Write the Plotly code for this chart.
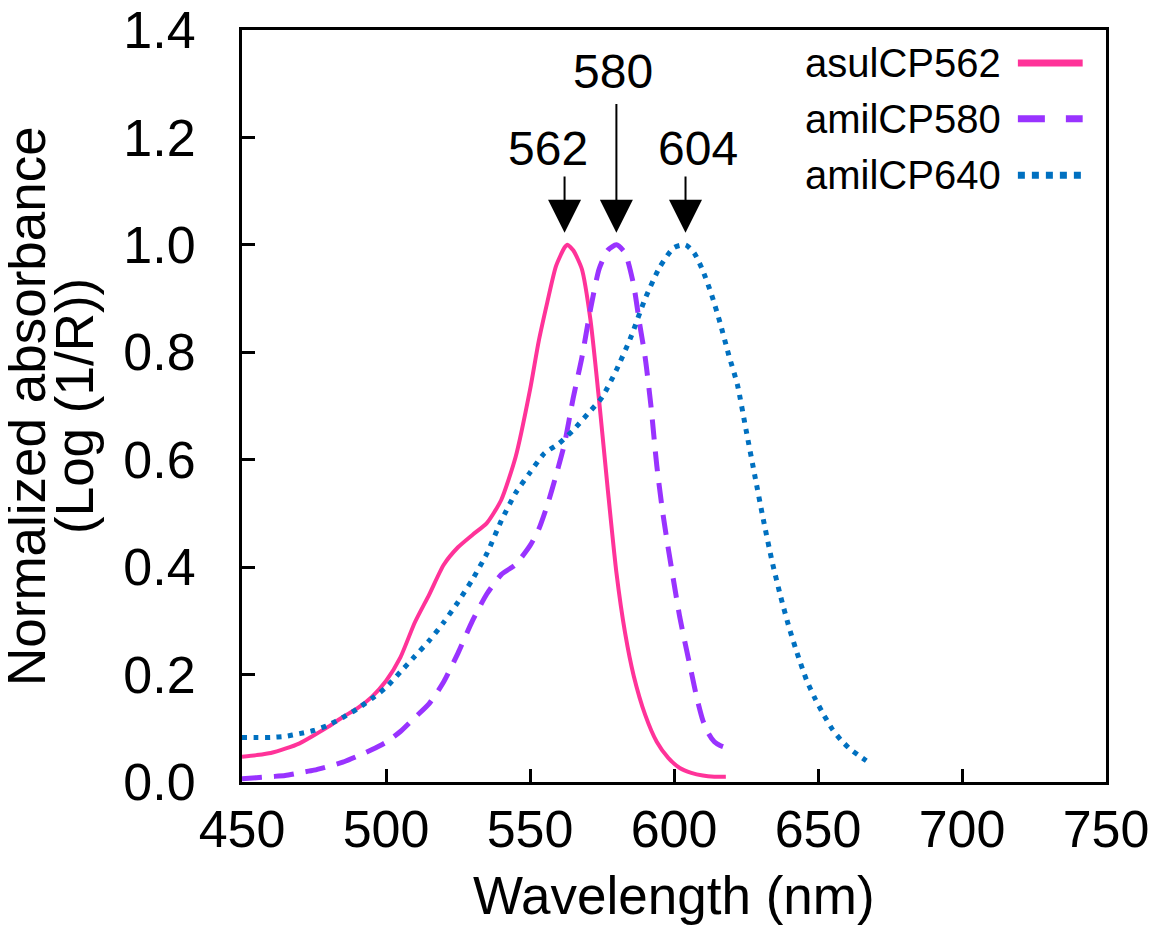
import plotly.graph_objects as go

# spectra (wavelength nm, normalized absorbance)
asul562_wl = [450, 455, 460, 465, 470, 475, 480, 485, 490, 495, 500, 505, 510, 515, 520,
              525, 530, 535, 540, 545, 550, 553, 556, 559, 562, 563, 565, 568, 571, 574,
              577, 580, 583, 586, 590, 594, 598, 602, 606, 610, 614, 618]
asul562_abs = [0.047, 0.050, 0.054, 0.062, 0.072, 0.087, 0.103, 0.121, 0.137, 0.158, 0.188,
               0.232, 0.297, 0.349, 0.404, 0.437, 0.460, 0.482, 0.525, 0.605, 0.730, 0.820,
               0.893, 0.960, 0.995, 1.000, 0.990, 0.955, 0.860, 0.710, 0.545, 0.390, 0.278,
               0.198, 0.125, 0.075, 0.045, 0.026, 0.017, 0.012, 0.010, 0.010]

amil580_wl = [450, 455, 460, 465, 470, 475, 480, 485, 490, 495, 500, 505, 510, 515, 520,
              525, 530, 535, 540, 545, 550, 553, 556, 559, 562, 565, 568, 571, 574, 577,
              580, 583, 586, 588, 590, 592, 594, 596, 598, 600, 602, 604, 606, 608, 610,
              612, 614, 616, 618]
amil580_abs = [0.006, 0.008, 0.010, 0.012, 0.017, 0.022, 0.029, 0.037, 0.048, 0.060, 0.074,
               0.094, 0.120, 0.146, 0.186, 0.240, 0.300, 0.350, 0.386, 0.405, 0.440, 0.470,
               0.515, 0.570, 0.630, 0.715, 0.790, 0.880, 0.955, 0.990, 1.000, 0.985, 0.925,
               0.855, 0.790, 0.700, 0.590, 0.505, 0.435, 0.370, 0.307, 0.255, 0.205, 0.155,
               0.115, 0.090, 0.075, 0.068, 0.064]

amil640_wl = [450, 455, 460, 465, 470, 475, 480, 485, 490, 495, 500, 505, 510, 515, 520,
              525, 530, 535, 540, 545, 550, 555, 560, 565, 570, 575, 580, 585, 590, 595,
              600, 604, 607, 610, 613, 616, 619, 622, 625, 628, 631, 634, 637, 640, 643,
              646, 649, 652, 655, 658, 661, 664, 668]
amil640_abs = [0.083, 0.083, 0.083, 0.085, 0.090, 0.096, 0.106, 0.120, 0.136, 0.155, 0.176,
               0.205, 0.234, 0.263, 0.297, 0.335, 0.377, 0.425, 0.486, 0.538, 0.576, 0.612,
               0.630, 0.655, 0.685, 0.716, 0.767, 0.828, 0.900, 0.958, 0.995, 1.000, 0.985,
               0.952, 0.908, 0.855, 0.795, 0.740, 0.656, 0.572, 0.489, 0.412, 0.346, 0.287,
               0.236, 0.190, 0.155, 0.125, 0.098, 0.078, 0.062, 0.050, 0.035]

names = ['asulCP562', 'amilCP580', 'amilCP640']
peaks = [562, 580, 604]

FONT = 'Liberation Sans, Arial, Helvetica, sans-serif'
colors = ['#FF3399', '#9933FF', '#0070C0']
widths = [4, 5, 5]
dashes = ['solid', '20px,12px', '5px,6.5px']
# legend swatch styles (thicker than the curves in the original)
leg_dashes = ['solid', '27px,21px', '7px,7px']

fig = go.Figure()
series = [(asul562_wl, asul562_abs), (amil580_wl, amil580_abs), (amil640_wl, amil640_abs)]
for (wl, ab), nm, c, w, d in zip(series, names, colors, widths, dashes):
    fig.add_trace(go.Scatter(x=wl, y=ab, mode='lines', name=nm, showlegend=False,
                             line=dict(color=c, width=w, dash=d, shape='spline',
                                       smoothing=0.6)))

# peak markers: arrow + label
label_y = [1.18, 1.322, 1.18]
tail_y = [1.13, 1.265, 1.13]
label_shift = [-17, -3, 12]
for p, ly, ty, xs in zip(peaks, label_y, tail_y, label_shift):
    fig.add_annotation(x=p, y=1.0, ax=p, ay=ty, axref='x', ayref='y', text='',
                       showarrow=True, arrowhead=2, arrowwidth=2, arrowsize=3.3,
                       arrowcolor='black', standoff=12)
    fig.add_annotation(x=p, y=ly, text=str(p), showarrow=False, xshift=xs,
                       font=dict(family=FONT, size=48, color='black'))

# legend drawn by hand: label on the left, line sample on the right
leg_y = [0.956, 0.882, 0.807]
for nm, c, d, ly in zip(names, colors, leg_dashes, leg_y):
    fig.add_annotation(x=0.881, y=ly, xref='paper', yref='paper', text=nm,
                       showarrow=False, xanchor='right', yanchor='middle',
                       font=dict(family=FONT, size=40, color='black'))
    fig.add_shape(type='line', xref='paper', yref='paper', x0=0.898, x1=0.973,
                  y0=ly, y1=ly, line=dict(color=c, width=7, dash=d))

# axis titles
fig.add_annotation(x=0.5, y=0, xref='paper', yref='paper', yshift=-113,
                   text='Wavelength (nm)', showarrow=False, yanchor='middle',
                   font=dict(family=FONT, size=53, color='black'))
fig.add_annotation(x=0, y=0.5, xref='paper', yref='paper', xshift=-216,
                   text='Normalized absorbance', textangle=-90, showarrow=False,
                   xanchor='center', font=dict(family=FONT, size=53, color='black'))
fig.add_annotation(x=0, y=0.5, xref='paper', yref='paper', xshift=-168,
                   text='(Log (1/R))', textangle=-90, showarrow=False,
                   xanchor='center', font=dict(family=FONT, size=53, color='black'))

axis_common = dict(showline=True, linecolor='black', linewidth=3, mirror=True,
                   ticks='inside', ticklen=13, tickwidth=3, tickcolor='black',
                   showgrid=False, zeroline=False, automargin=False,
                   ticklabeloverflow='allow',
                   tickfont=dict(family=FONT, size=52, color='black'))
fig.update_xaxes(range=[450, 750], dtick=50, tick0=450, ticklabelstandoff=0, **axis_common)
fig.update_yaxes(range=[0, 1.4], dtick=0.2, tick0=0, tickformat='.1f',
                 ticklabelstandoff=33, **axis_common)

# page body adds an 8px offset, so the figure is 8px smaller than the window
fig.update_layout(width=1148, height=932, plot_bgcolor='white', paper_bgcolor='white',
                  margin=dict(l=234, r=50, t=22, b=158), showlegend=False,
                  font=dict(family=FONT, color='black'))

fig.write_html('out.html')
